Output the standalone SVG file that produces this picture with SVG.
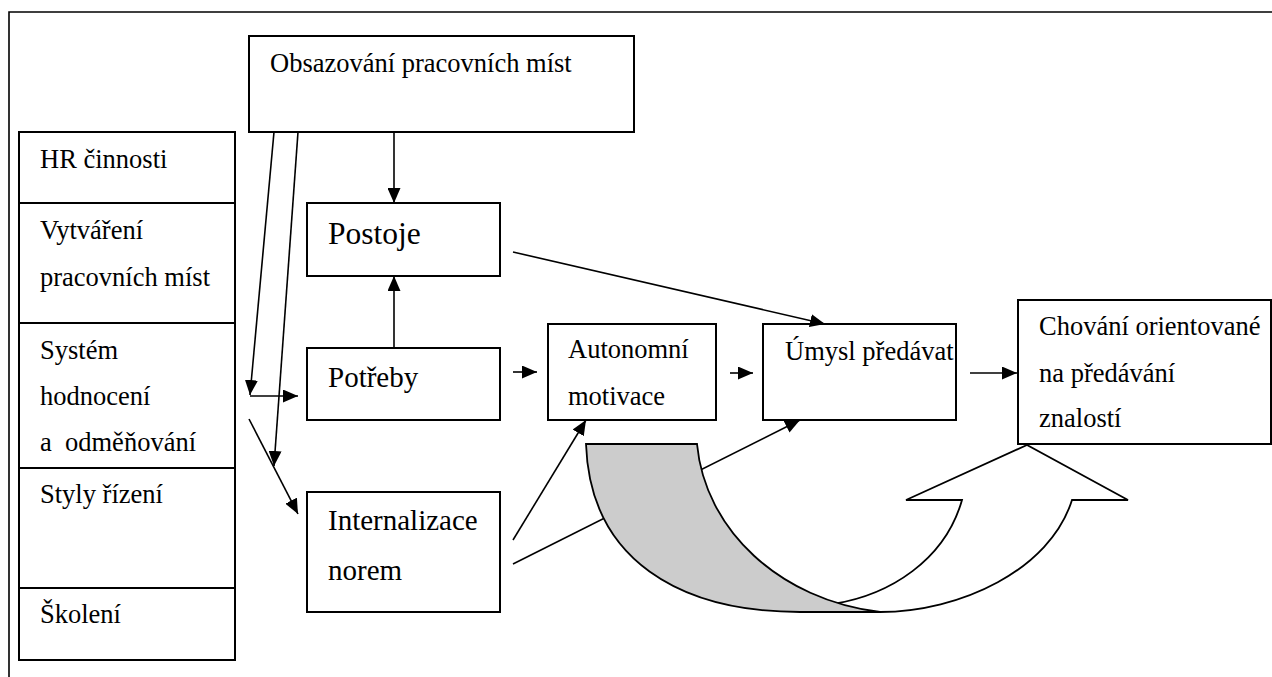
<svg xmlns="http://www.w3.org/2000/svg" width="1272" height="677" viewBox="0 0 1272 677">
<style>
.box{fill:#fff;stroke:#000;stroke-width:2}
text{font-family:'Liberation Serif','Times New Roman',Tinos,'DejaVu Serif',serif;font-size:26.5px;fill:#000}
text.big{font-size:29px}
text.xl{font-size:31.5px}
.ln{stroke:#000;stroke-width:1.6;fill:none}
.arr{marker-end:url(#ah)}
</style>
<defs>
<marker id="ah" viewBox="0 0 15 13" refX="15" refY="6.5" markerWidth="15" markerHeight="13" markerUnits="userSpaceOnUse" orient="auto">
<path d="M0,0 L15,6.5 L0,13 z" fill="#000"/>
</marker>
</defs>
<rect width="1272" height="677" fill="#fff"/>
<path d="M9,677 V12 H1272" class="ln" stroke-width="2"/>

<g id="hr">
<rect class="box" x="19" y="132" width="216" height="71"/>
<text x="40" y="168" font-family="Liberation Serif, serif">HR činnosti</text>
</g>
<g id="vytvareni">
<rect class="box" x="19" y="203" width="216" height="120"/>
<text x="40" y="239" font-family="Liberation Serif, serif">Vytváření</text>
<text x="40" y="286" font-family="Liberation Serif, serif">pracovních míst</text>
</g>
<g id="system">
<rect class="box" x="19" y="323" width="216" height="145"/>
<text x="40" y="359" font-family="Liberation Serif, serif">Systém</text>
<text x="40" y="405" font-family="Liberation Serif, serif">hodnocení</text>
<text x="40" y="451" font-family="Liberation Serif, serif" xml:space="preserve">a  odměňování</text>
</g>
<g id="styly">
<rect class="box" x="19" y="468" width="216" height="120"/>
<text x="40" y="503" font-family="Liberation Serif, serif">Styly řízení</text>
</g>
<g id="skoleni">
<rect class="box" x="19" y="588" width="216" height="72"/>
<text x="40" y="623" font-family="Liberation Serif, serif">Školení</text>
</g>

<g id="obsazovani">
<rect class="box" x="249" y="36" width="385" height="96"/>
<text x="270" y="72" font-family="Liberation Serif, serif">Obsazování pracovních míst</text>
</g>
<g id="postoje">
<rect class="box" x="307" y="203" width="193" height="73"/>
<text class="xl" x="328" y="244" font-family="Liberation Serif, serif">Postoje</text>
</g>
<g id="potreby">
<rect class="box" x="307" y="348" width="193" height="72"/>
<text class="big" x="328" y="387" font-family="Liberation Serif, serif">Potřeby</text>
</g>
<g id="internalizace">
<rect class="box" x="307" y="492" width="193" height="120"/>
<text class="big" x="328" y="530" font-family="Liberation Serif, serif">Internalizace</text>
<text class="big" x="328" y="580" font-family="Liberation Serif, serif">norem</text>
</g>
<g id="autonomni">
<rect class="box" x="548" y="324" width="168" height="96"/>
<text x="568" y="358" font-family="Liberation Serif, serif">Autonomní</text>
<text x="568" y="405" font-family="Liberation Serif, serif">motivace</text>
</g>
<g id="umysl">
<rect class="box" x="763" y="324" width="193" height="96"/>
<text x="785" y="360" font-family="Liberation Serif, serif">Úmysl předávat</text>
</g>
<g id="chovani">
<rect class="box" x="1018" y="300" width="253" height="144"/>
<text x="1039" y="335" font-family="Liberation Serif, serif">Chování orientované</text>
<text x="1039" y="382" font-family="Liberation Serif, serif">na předávání</text>
<text x="1039" y="427" font-family="Liberation Serif, serif">znalostí</text>
</g>

<g id="connectors">
<line class="ln arr" x1="394" y1="132" x2="394" y2="203"/>
<line class="ln arr" x1="394" y1="348" x2="394" y2="276"/>
<line class="ln arr" x1="274" y1="132" x2="250" y2="395"/>
<line class="ln arr" x1="250" y1="396" x2="298" y2="396"/>
<line class="ln arr" x1="298" y1="132" x2="274" y2="466"/>
<line class="ln arr" x1="249" y1="419" x2="298" y2="514"/>
<line class="ln arr" x1="513" y1="372" x2="537" y2="372"/>
<line class="ln arr" x1="730" y1="373" x2="753" y2="373"/>
<line class="ln arr" x1="970" y1="373" x2="1017" y2="373"/>
<line class="ln arr" x1="513" y1="252" x2="825" y2="324"/>
<line class="ln arr" x1="513" y1="540" x2="586" y2="420"/>
<line class="ln arr" x1="513" y1="564" x2="800" y2="420"/>
</g>

<g id="curved-arrow">
<path d="M833,604 L800,612 L880,612 C960,612 1050,570 1072,500 L1128,500 L1027,445 L906,500 L962,500 C945,560 890,595 833,604 Z" fill="#fff" stroke="#000" stroke-width="1.8"/>
<path d="M586,444 L697,444 C705,530 780,600 880,612 L800,612 C680,612 590,560 586,444 Z" fill="#cccccc" stroke="#000" stroke-width="1.8"/>
</g>
</svg>
